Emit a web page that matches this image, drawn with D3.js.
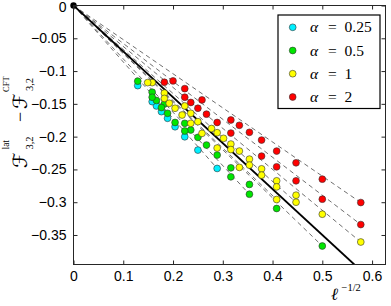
<!DOCTYPE html>
<html><head><meta charset="utf-8">
<script src="https://cdn.jsdelivr.net/npm/d3@7"></script>
<style>body{margin:0;background:#fff}svg{display:block}</style>
</head><body><svg id="c" width="391" height="306"></svg>
<script>
// ---- data (ℓ values and F^lat - F^CFT) ----
const legendLabels = ["0.25", "0.5", "1", "2"];
const seriesColors = ["#00f0ff", "#00e600", "#ffff00", "#ff0000"];
const xTicks = [0, 0.1, 0.2, 0.3, 0.4, 0.5, 0.6];
const yTicks = [0, -0.05, -0.1, -0.15, -0.2, -0.25, -0.3, -0.35];

const cyanH_l = [12, 16, 20, 24, 28, 32, 36, 40, 60];
const cyanH_y = [-0.2485, -0.2205, -0.2002, -0.1849, -0.1720, -0.1619, -0.1532, -0.1466, -0.1222];
const greenF_l = [4, 6, 8, 10, 12, 14, 16, 18, 20, 30, 40];
const greenF_y = [-0.3668, -0.3096, -0.2729, -0.2476, -0.2281, -0.2128, -0.2011, -0.1899, -0.1797, -0.1502, -0.1323];
const greenG_l = [8, 10, 20, 24, 28, 32, 36, 40, 60];
const greenG_y = [-0.2878, -0.2613, -0.1914, -0.1784, -0.1644, -0.1556, -0.1448, -0.1399, -0.1154];
const yellowC_l = [3, 4, 5, 6, 7, 8, 9, 10, 11, 12, 13, 20];
const yellowC_y = [-0.3607, -0.3183, -0.2893, -0.2674, -0.2491, -0.2343, -0.2220, -0.2113, -0.2026, -0.1940, -0.1876, -0.1532];
const yellowD_l = [5, 6, 7, 8, 10, 16, 18, 30, 40];
const yellowD_y = [-0.3000, -0.2766, -0.2587, -0.2434, -0.2197, -0.1772, -0.1644, -0.1336, -0.1176];
const yellowE_l = [6, 9, 12, 15, 18, 21, 24, 27, 30, 45];
const yellowE_y = [-0.2959, -0.2469, -0.2174, -0.1950, -0.1797, -0.1670, -0.1567, -0.1491, -0.1417, -0.1176];
const redA_l = [3, 4, 5, 6, 7, 8, 9, 10, 15, 20, 25];
const redA_y = [-0.3005, -0.2648, -0.2399, -0.2220, -0.2052, -0.1934, -0.1827, -0.1746, -0.1440, -0.1268, -0.1150];
const redB_l = [3, 4, 5, 6, 7, 10, 12, 14, 16, 18, 20, 30];
const redB_y = [-0.3341, -0.2954, -0.2674, -0.2460, -0.2297, -0.1945, -0.1784, -0.1657, -0.1567, -0.1479, -0.1399, -0.1170];
// CFT leading-order reference line (solid)
const refLine_x = [0, 0.5643];
const refLine_y = [0, -0.395];

// ---- build ----
const chains = [
  {c: 0, l: cyanH_l, y: cyanH_y},
  {c: 1, l: greenF_l, y: greenF_y},
  {c: 1, l: greenG_l, y: greenG_y},
  {c: 2, l: yellowC_l, y: yellowC_y},
  {c: 2, l: yellowD_l, y: yellowD_y},
  {c: 2, l: yellowE_l, y: yellowE_y},
  {c: 3, l: redA_l, y: redA_y},
  {c: 3, l: redB_l, y: redB_y}
].map(s => ({c: s.c, pts: s.l.map((l, i) => ({x: 1 / Math.sqrt(l), y: s.y[i]}))}));

const svg = d3.select("#c");
const L = 73.5, R = 385.5, T = 5.5, B = 264.5;
const x = d3.scaleLinear().domain([0, 0.627]).range([L, R]);
const y = d3.scaleLinear().domain([-0.395, 0]).range([B, T]);
const axisColor = "#262626";

svg.append("defs").append("clipPath").attr("id", "clip")
  .append("rect").attr("x", L).attr("y", T).attr("width", R - L).attr("height", B - T);

const plot = svg.append("g").attr("clip-path", "url(#clip)");

// dashed fit lines
chains.forEach(s => {
  const far = s.pts.reduce((a, b) => (b.x > a.x ? b : a));
  plot.append("line")
    .attr("x1", x(0)).attr("y1", y(0)).attr("x2", x(far.x)).attr("y2", y(far.y))
    .attr("stroke", "#4a4a4a").attr("stroke-width", 0.8).attr("stroke-dasharray", "4.5,3.5");
});

// solid reference line
plot.append("path")
  .attr("d", d3.line().x(d => x(d[0])).y(d => y(d[1]))(refLine_x.map((v, i) => [v, refLine_y[i]])))
  .attr("stroke", "#000").attr("stroke-width", 1.8).attr("fill", "none");

// points
chains.forEach(s => {
  plot.selectAll(null).data(s.pts).enter().append("circle")
    .attr("cx", d => x(d.x)).attr("cy", d => y(d.y)).attr("r", 3.4)
    .attr("fill", seriesColors[s.c]).attr("stroke", "#333").attr("stroke-width", 0.6);
});

// origin dot
svg.append("circle").attr("cx", x(0)).attr("cy", y(0)).attr("r", 3.2).attr("fill", "#000");

// frame
svg.append("rect").attr("x", L).attr("y", T).attr("width", R - L).attr("height", B - T)
  .attr("fill", "none").attr("stroke", axisColor).attr("stroke-width", 1);

// axes
const tl = 4;
const gx = svg.append("g").attr("transform", `translate(0,${B})`)
  .call(d3.axisBottom(x).tickValues(xTicks).tickSize(-tl).tickPadding(7).tickFormat(d => d === 0 ? "0" : d3.format(".1f")(d)));
const gxt = svg.append("g").attr("transform", `translate(0,${T})`)
  .call(d3.axisTop(x).tickValues(xTicks).tickSize(-tl).tickFormat(""));
const gy = svg.append("g").attr("transform", `translate(${L},0)`)
  .call(d3.axisLeft(y).tickValues(yTicks).tickSize(-tl).tickPadding(7)
    .tickFormat(d => d === 0 ? "0" : "\u2212" + String(Math.abs(d))));
const gyr = svg.append("g").attr("transform", `translate(${R},0)`)
  .call(d3.axisRight(y).tickValues(yTicks).tickSize(-tl).tickFormat(""));
[gx, gxt, gy, gyr].forEach(g => {
  g.select(".domain").remove();
  g.selectAll(".tick line").attr("stroke", axisColor);
  g.selectAll("text").attr("font-family", "Liberation Sans, Arial, sans-serif").attr("font-size", 14).attr("fill", "#000");
});
// keep the top "0" fully inside the picture
gy.selectAll(".tick").filter(d => d === 0).select("text").attr("dy", "0.4em");

// legend
const lg = svg.append("g");
lg.append("rect").attr("x", 278).attr("y", 15).attr("width", 102).attr("height", 93.5)
  .attr("fill", "#fff").attr("stroke", "#000").attr("stroke-width", 1.2);
const rowY = [27.3, 50.5, 73.7, 97];
legendLabels.forEach((lab, i) => {
  lg.append("circle").attr("cx", 292.7).attr("cy", rowY[i]).attr("r", 3.4)
    .attr("fill", seriesColors[i]).attr("stroke", "#333").attr("stroke-width", 0.6);
  const t = lg.append("text").attr("x", 310).attr("y", rowY[i] + 5)
    .attr("font-family", "Liberation Serif, serif").attr("font-size", 15.5).attr("fill", "#000");
  t.append("tspan").attr("font-style", "italic").text("α");
  t.append("tspan").attr("x", 328).text("=");
  t.append("tspan").attr("x", 344.5).text(lab);
});

// y label (rotated pieces)
const ylab = [
  {t: "ℱ", bx: 27, sy: 168, fs: 20, ff: "DejaVu Serif, DejaVu Sans, serif"},
  {t: "3,2", bx: 32.5, sy: 149.5, fs: 10.5, ff: "Liberation Serif, serif"},
  {t: "lat", bx: 9, sy: 149.5, fs: 9.5, ff: "Liberation Serif, serif"},
  {t: "−", bx: 26, sy: 122, fs: 18, ff: "Liberation Serif, serif"},
  {t: "ℱ", bx: 27, sy: 109, fs: 20, ff: "DejaVu Serif, DejaVu Sans, serif"},
  {t: "3,2", bx: 32.5, sy: 91, fs: 10.5, ff: "Liberation Serif, serif"},
  {t: "CFT", bx: 9, sy: 92, fs: 8.5, ff: "Liberation Serif, serif"}
];
ylab.forEach(p => {
  svg.append("text").attr("transform", `translate(${p.bx},${p.sy}) rotate(-90)`)
    .attr("font-family", p.ff).attr("font-size", p.fs).attr("fill", "#000").text(p.t);
});

// x label: ℓ^{-1/2} as a single text element
const xl = svg.append("text").attr("x", 331).attr("y", 300)
  .attr("font-family", "Liberation Serif, serif").attr("fill", "#000");
xl.append("tspan").attr("font-style", "italic").attr("font-size", 17).text("ℓ");
xl.append("tspan").attr("x", 341.5).attr("dy", -9).attr("font-size", 10.5).text("−1/2");
</script></body></html>
